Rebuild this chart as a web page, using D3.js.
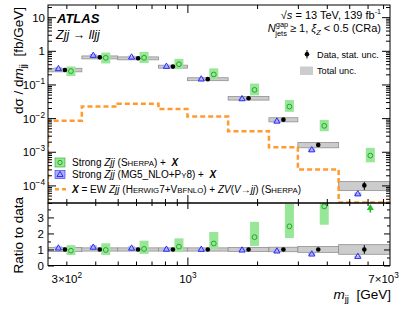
<!DOCTYPE html>
<html>
<head>
<meta charset="utf-8">
<script src="https://cdn.jsdelivr.net/npm/d3@7"></script>
<style>
  body { margin: 0; background: #fff; }
  svg { display: block; font-family: "Liberation Sans", Arial, Helvetica, sans-serif; }
</style>
</head>
<body>
<div id="chart"></div>
<script>
// m_jj bin edges [GeV]
const edges = [250, 350, 500, 750, 1000, 1500, 2250, 3000, 4500, 7500];
// measured cross-section [fb/GeV] with relative uncertainties
const dataVal = [0.27, 0.64, 0.60, 0.34, 0.144, 0.039, 0.0090, 0.0016, 1.0e-4];
const dataStat = [0.02, 0.02, 0.02, 0.03, 0.03, 0.04, 0.06, 0.10, 0.27];
const dataTot = [0.12, 0.10, 0.10, 0.10, 0.10, 0.12, 0.14, 0.18, 0.30];
// Strong Zjj (Sherpa) + X
const sherpaVal = [0.25, 0.62, 0.62, 0.40, 0.198, 0.069, 0.0220, 0.0059, 7.7e-4];
const sherpaUp = [0.37, 0.43, 0.50, 0.44, 0.52, 0.54, 0.57, 0.50, 0.70];
const sherpaDn = [0.29, 0.32, 0.30, 0.27, 0.25, 0.31, 0.30, 0.31, 0.37];
// Strong Zjj (MG5_NLO+Py8) + X
const mg5Val = [0.29, 0.72, 0.64, 0.34, 0.143, 0.037, 0.0080, 0.00112, 5.5e-5];
const mg5Unc = [0.12, 0.12, 0.12, 0.12, 0.12, 0.12, 0.12, 0.12, 0.12];
// X = EW Zjj + ZV
const ewVal = [0.0084, 0.0222, 0.0266, 0.0185, 0.0112, 0.0041, 0.00136, 2.97e-4, 3.1e-5];

const yMajor = [1e-4, 1e-3, 1e-2, 1e-1, 1, 10];
const xMinor = [300, 400, 500, 600, 700, 800, 900, 2000, 3000, 4000, 5000, 6000, 7000];
const xMajor = [1000];
const xLabels = [300, 1000, 7000];
const rMajor = [0, 1, 2, 3];
const rMinor = [0.5, 1.5, 2.5, 3.5];

const W = 399, H = 309;
const L = 48, R = 390, T = 5, B1 = 203, B2 = 265.5;

const cGreenFill = "#98e698", cGreen = "#22a822";
const cBlueFill = "#aab0ff", cBlue = "#2a2ae8";
const cGrayFill = "#cccccc", cGrayLine = "#909090";
const cOrange = "#ff9a2e";
const NB = "\u00a0";

const svg = d3.select("#chart").append("svg")
  .attr("width", W).attr("height", H);

const x = d3.scaleLog().domain([250, 7500]).range([L, R]);
const y = d3.scaleLog().domain([3e-5, 23]).range([B1, T]);
const yr = d3.scaleLinear().domain([0, 3.9]).range([B2, B1]);

// helper: write rich text made of parts
function rich(txt, parts, fs) {
  parts.forEach(p => {
    const t = txt.append("tspan").text(p.t);
    if (p.i) t.attr("font-style", "italic");
    if (p.b) t.attr("font-weight", "bold");
    if (p.s) t.attr("font-size", fs * p.s);
    if (p.dy) t.attr("dy", p.dy);
    if (p.dx) t.attr("dx", p.dx);
  });
  return txt;
}

const bins = d3.range(dataVal.length).map(i => ({
  i, lo: edges[i], hi: edges[i + 1], xc: Math.sqrt(edges[i] * edges[i + 1]),
  d: dataVal[i], st: dataStat[i], tot: dataTot[i],
  sh: sherpaVal[i], shUp: sherpaUp[i], shDn: sherpaDn[i],
  mg: mg5Val[i], mgU: mg5Unc[i]
}));

const defs = svg.append("defs");
defs.append("clipPath").attr("id", "clipTop").append("rect")
  .attr("x", L).attr("y", T).attr("width", R - L).attr("height", B1 - T);
defs.append("clipPath").attr("id", "clipBot").append("rect")
  .attr("x", L).attr("y", B1).attr("width", R - L).attr("height", B2 - B1);

const offTri = -6.5, offCirc = 6;

// ---------- top panel ----------
const gTop = svg.append("g").attr("clip-path", "url(#clipTop)");

gTop.selectAll(".tot").data(bins).enter().append("rect")
  .attr("x", d => x(d.lo)).attr("width", d => x(d.hi) - x(d.lo))
  .attr("y", d => y(d.d * (1 + d.tot)))
  .attr("height", d => y(d.d * (1 - d.tot)) - y(d.d * (1 + d.tot)))
  .attr("fill", cGrayFill).attr("stroke", cGrayLine).attr("stroke-width", 0.8);

const ewLine = d3.line().x(d => x(d[0])).y(d => y(d[1])).curve(d3.curveStepAfter);
const ewPts = [[edges[0], 3e-5]].concat(ewVal.map((v, i) => [edges[i], v]), [[edges[edges.length - 1], ewVal[ewVal.length - 1]]]);
gTop.append("path").attr("d", ewLine(ewPts))
  .attr("fill", "none").attr("stroke", cOrange).attr("stroke-width", 2.5)
  .attr("stroke-dasharray", "5,3");

gTop.selectAll(".shbox").data(bins).enter().append("rect")
  .attr("x", d => x(d.xc) + offCirc - 4.5).attr("width", 9)
  .attr("y", d => y(d.sh * (1 + d.shUp)))
  .attr("height", d => y(d.sh * (1 - d.shDn)) - y(d.sh * (1 + d.shUp)))
  .attr("fill", cGreenFill);

gTop.selectAll(".mgbox").data(bins).enter().append("rect")
  .attr("x", d => x(d.xc) + offTri - 3.5).attr("width", 7)
  .attr("y", d => y(d.mg * (1 + d.mgU)))
  .attr("height", d => y(d.mg * (1 - d.mgU)) - y(d.mg * (1 + d.mgU)))
  .attr("fill", cBlueFill);

const tri = d3.symbol().type(d3.symbolTriangle).size(16);
gTop.selectAll(".mg").data(bins).enter().append("path")
  .attr("d", tri).attr("transform", d => `translate(${x(d.xc) + offTri},${y(d.mg)})`)
  .attr("fill", "none").attr("stroke", cBlue).attr("stroke-width", 1);

gTop.selectAll(".sh").data(bins).enter().append("circle")
  .attr("cx", d => x(d.xc) + offCirc).attr("cy", d => y(d.sh)).attr("r", 2.4)
  .attr("fill", "none").attr("stroke", cGreen).attr("stroke-width", 1);

gTop.selectAll(".err").data(bins).enter().append("line")
  .attr("x1", d => x(d.xc)).attr("x2", d => x(d.xc))
  .attr("y1", d => y(d.d * (1 + d.st))).attr("y2", d => y(d.d * (1 - d.st)))
  .attr("stroke", "#000").attr("stroke-width", 1);
gTop.selectAll(".dat").data(bins).enter().append("circle")
  .attr("cx", d => x(d.xc)).attr("cy", d => y(d.d)).attr("r", 2.3).attr("fill", "#000");

// ---------- ratio panel ----------
const gBot = svg.append("g").attr("clip-path", "url(#clipBot)");

gBot.selectAll(".tot").data(bins).enter().append("rect")
  .attr("x", d => x(d.lo)).attr("width", d => x(d.hi) - x(d.lo))
  .attr("y", d => yr(1 + d.tot)).attr("height", d => yr(1 - d.tot) - yr(1 + d.tot))
  .attr("fill", cGrayFill).attr("stroke", cGrayLine).attr("stroke-width", 0.8);

const inR = d => d.sh / d.d < 3.9;
gBot.selectAll(".shbox").data(bins.filter(inR)).enter().append("rect")
  .attr("x", d => x(d.xc) + offCirc - 4.5).attr("width", 9)
  .attr("y", d => yr(d.sh / d.d * (1 + d.shUp)))
  .attr("height", d => yr(d.sh / d.d * (1 - d.shDn)) - yr(d.sh / d.d * (1 + d.shUp)))
  .attr("fill", cGreenFill);

gBot.selectAll(".mgbox").data(bins).enter().append("rect")
  .attr("x", d => x(d.xc) + offTri - 3.5).attr("width", 7)
  .attr("y", d => yr(d.mg / d.d * (1 + d.mgU)))
  .attr("height", d => yr(d.mg / d.d * (1 - d.mgU)) - yr(d.mg / d.d * (1 + d.mgU)))
  .attr("fill", cBlueFill);

gBot.selectAll(".mg").data(bins).enter().append("path")
  .attr("d", tri).attr("transform", d => `translate(${x(d.xc) + offTri},${yr(d.mg / d.d)})`)
  .attr("fill", "none").attr("stroke", cBlue).attr("stroke-width", 1);

gBot.selectAll(".sh").data(bins.filter(inR)).enter().append("circle")
  .attr("cx", d => x(d.xc) + offCirc).attr("cy", d => yr(d.sh / d.d)).attr("r", 2.4)
  .attr("fill", "none").attr("stroke", cGreen).attr("stroke-width", 1);

// off-scale arrow for Sherpa
const offScale = bins.filter(d => !inR(d));
gBot.selectAll(".arr").data(offScale).enter().append("line")
  .attr("x1", d => x(d.xc) + offCirc).attr("x2", d => x(d.xc) + offCirc)
  .attr("y1", yr(3.3)).attr("y2", B1 + 3)
  .attr("stroke", cGreen).attr("stroke-width", 1.5);
gBot.selectAll(".arrh").data(offScale).enter().append("path")
  .attr("d", d => { const cx = x(d.xc) + offCirc; return `M${cx - 3.5},${B1 + 7}L${cx + 3.5},${B1 + 7}L${cx},${B1 + 1}Z`; })
  .attr("fill", "#22c022");

gBot.selectAll(".err").data(bins).enter().append("line")
  .attr("x1", d => x(d.xc)).attr("x2", d => x(d.xc))
  .attr("y1", d => yr(1 + d.st)).attr("y2", d => yr(1 - d.st))
  .attr("stroke", "#000").attr("stroke-width", 1);
gBot.selectAll(".dat").data(bins).enter().append("circle")
  .attr("cx", d => x(d.xc)).attr("cy", yr(1)).attr("r", 2.3).attr("fill", "#000");

// ---------- axes ----------
const fsTick = 11.5;
function clean(g) { g.select(".domain").remove(); g.selectAll("line").attr("stroke", "#000"); }

const yMinor = [];
for (let e = -5; e <= 1; e++) for (let k = 2; k <= 9; k++) {
  const v = k * Math.pow(10, e);
  if (v >= 3e-5 && v <= 23) yMinor.push(v);
}

// top panel: left / right
svg.append("g").attr("transform", `translate(${L},0)`)
  .call(d3.axisLeft(y).tickValues(yMinor).tickSizeInner(-4).tickSizeOuter(0).tickFormat(""))
  .call(clean);
const yl = svg.append("g").attr("transform", `translate(${L},0)`)
  .call(d3.axisLeft(y).tickValues(yMajor).tickSizeInner(-8).tickSizeOuter(0).tickPadding(3))
  .call(clean);
yl.selectAll("text").attr("font-size", fsTick).attr("fill", "#000").attr("font-family", null)
  .attr("dy", "0.36em")
  .each(function (d) {
    const t = d3.select(this).text(null);
    const e = Math.round(Math.log10(d));
    if (e === 0) t.text("1");
    else if (e === 1) t.text("10");
    else rich(t, [{ t: "10" }, { t: "\u2212" + (-e), s: 0.72, dy: -5 }], fsTick);
  });
svg.append("g").attr("transform", `translate(${R},0)`)
  .call(d3.axisRight(y).tickValues(yMinor).tickSizeInner(-4).tickSizeOuter(0).tickFormat(""))
  .call(clean);
svg.append("g").attr("transform", `translate(${R},0)`)
  .call(d3.axisRight(y).tickValues(yMajor).tickSizeInner(-8).tickSizeOuter(0).tickFormat(""))
  .call(clean);

// top panel: top / bottom x ticks
[[T, d3.axisTop], [B1, d3.axisBottom]].forEach(([yy, ax]) => {
  svg.append("g").attr("transform", `translate(0,${yy})`)
    .call(ax(x).tickValues(xMinor).tickSizeInner(-4).tickSizeOuter(0).tickFormat("")).call(clean);
  svg.append("g").attr("transform", `translate(0,${yy})`)
    .call(ax(x).tickValues(xMajor).tickSizeInner(-8).tickSizeOuter(0).tickFormat("")).call(clean);
});

// ratio panel ticks
svg.append("g").attr("transform", `translate(0,${B1})`)
  .call(d3.axisTop(x).tickValues(xMinor).tickSizeInner(-3).tickSizeOuter(0).tickFormat("")).call(clean);
svg.append("g").attr("transform", `translate(0,${B1})`)
  .call(d3.axisTop(x).tickValues(xMajor).tickSizeInner(-6).tickSizeOuter(0).tickFormat("")).call(clean);
svg.append("g").attr("transform", `translate(0,${B2})`)
  .call(d3.axisBottom(x).tickValues(xMinor).tickSizeInner(-4).tickSizeOuter(0).tickFormat("")).call(clean);
svg.append("g").attr("transform", `translate(0,${B2})`)
  .call(d3.axisBottom(x).tickValues(xMajor).tickSizeInner(-8).tickSizeOuter(0).tickFormat("")).call(clean);
const xl = svg.append("g").attr("transform", `translate(0,${B2})`)
  .call(d3.axisBottom(x).tickValues(xLabels).tickSize(0).tickPadding(9))
  .call(clean);
xl.selectAll("text").attr("font-size", fsTick).attr("fill", "#000").attr("font-family", null)
  .each(function (d) {
    const t = d3.select(this).text(null);
    const e = Math.floor(Math.log10(d) + 1e-9);
    const m = Math.round(d / Math.pow(10, e));
    const parts = [];
    if (m !== 1) parts.push({ t: m + "\u00d7" });
    parts.push({ t: "10" }, { t: String(e), s: 0.72, dy: -5 });
    rich(t, parts, fsTick);
  });

svg.append("g").attr("transform", `translate(${L},0)`)
  .call(d3.axisLeft(yr).tickValues(rMinor).tickSizeInner(-3).tickSizeOuter(0).tickFormat("")).call(clean);
const rl = svg.append("g").attr("transform", `translate(${L},0)`)
  .call(d3.axisLeft(yr).tickValues(rMajor).tickSizeInner(-6).tickSizeOuter(0).tickPadding(4)
    .tickFormat(d3.format("d")))
  .call(clean);
rl.selectAll("text").attr("font-size", fsTick).attr("fill", "#000").attr("font-family", null);
svg.append("g").attr("transform", `translate(${R},0)`)
  .call(d3.axisRight(yr).tickValues(rMinor).tickSizeInner(-3).tickSizeOuter(0).tickFormat("")).call(clean);
svg.append("g").attr("transform", `translate(${R},0)`)
  .call(d3.axisRight(yr).tickValues(rMajor).tickSizeInner(-6).tickSizeOuter(0).tickFormat("")).call(clean);

// frames
svg.append("rect").attr("x", L).attr("y", T).attr("width", R - L).attr("height", B1 - T)
  .attr("fill", "none").attr("stroke", "#000").attr("stroke-width", 1);
svg.append("rect").attr("x", L).attr("y", B1).attr("width", R - L).attr("height", B2 - B1)
  .attr("fill", "none").attr("stroke", "#000").attr("stroke-width", 1);

// ---------- titles ----------
const fsTitle = 13.5;
rich(svg.append("text").attr("transform", `translate(23,7) rotate(-90)`)
  .attr("text-anchor", "end").attr("font-size", fsTitle),
  [{ t: "d\u03c3 / d" }, { t: "m", i: true }, { t: "jj", s: 0.7, dy: 3 }, { t: NB + NB + "[fb/GeV]", dy: -3 }], fsTitle);
svg.append("text").attr("transform", `translate(23,197) rotate(-90)`)
  .attr("text-anchor", "end").attr("font-size", fsTitle).text("Ratio to data");
rich(svg.append("text").attr("x", 391).attr("y", 299)
  .attr("text-anchor", "end").attr("font-size", fsTitle),
  [{ t: "m", i: true }, { t: "jj", s: 0.7, dy: 3 }, { t: NB + NB + "[GeV]", dy: -3 }], fsTitle);

// ---------- labels ----------
svg.append("text").attr("x", 57).attr("y", 23).attr("font-size", 13)
  .attr("font-weight", "bold").attr("font-style", "italic").text("ATLAS");
rich(svg.append("text").attr("x", 56).attr("y", 39).attr("font-size", 12.5),
  [{ t: "Zjj", i: true }, { t: " \u2192 " }, { t: "lljj", i: true }], 12.5);

const fsR = 11;
rich(svg.append("text").attr("x", 381).attr("y", 19).attr("text-anchor", "end").attr("font-size", fsR),
  [{ t: "\u221a" }, { t: "s", i: true }, { t: " = 13 TeV, 139 fb" }, { t: "-1", s: 0.65, dy: -5 }], fsR);
const l2 = rich(svg.append("text").attr("x", 0).attr("y", 32).attr("font-size", fsR),
  [{ t: "N", i: true }, { t: "gap", s: 0.68, dy: -5 }, { t: "jets", s: 0.68, dx: -13, dy: 8.5 },
   { t: " \u2265 1, ", dy: -3.5 }, { t: "\u03be", i: true }, { t: "Z", i: true, s: 0.68, dy: 2.5 },
   { t: " < 0.5 (CRa)", dy: -2.5 }], fsR);
l2.attr("x", 381 - l2.node().getBBox().width);

// data / total legend
const fsL = 9.2;
svg.append("line").attr("x1", 307).attr("x2", 307).attr("y1", 50).attr("y2", 58.5).attr("stroke", "#000");
svg.append("circle").attr("cx", 307).attr("cy", 54.3).attr("r", 2.3).attr("fill", "#000");
svg.append("text").attr("x", 317).attr("y", 57.5).attr("font-size", fsL).text("Data, stat. unc.");
svg.append("rect").attr("x", 300).attr("y", 66.5).attr("width", 13).attr("height", 8.5).attr("fill", cGrayFill);
svg.append("text").attr("x", 317).attr("y", 74.3).attr("font-size", fsL).text("Total unc.");

// model legend
const fsM = 10;
svg.append("rect").attr("x", 55).attr("y", 158).attr("width", 10).attr("height", 9)
  .attr("fill", cGreenFill).attr("stroke", cGreen).attr("stroke-width", 0.6);
svg.append("circle").attr("cx", 60).attr("cy", 162.5).attr("r", 2.2)
  .attr("fill", "none").attr("stroke", cGreen);
rich(svg.append("text").attr("x", 72).attr("y", 166).attr("font-size", fsM),
  [{ t: "Strong " }, { t: "Zjj", i: true }, { t: " (S" }, { t: "HERPA", s: 0.78 }, { t: ") +" + NB + NB },
   { t: "X", i: true, b: true }], fsM);

svg.append("rect").attr("x", 55).attr("y", 170.5).attr("width", 10).attr("height", 8)
  .attr("fill", cBlueFill).attr("stroke", cBlue).attr("stroke-width", 0.6);
svg.append("path").attr("d", tri).attr("transform", "translate(60,174.8)")
  .attr("fill", "none").attr("stroke", cBlue);
rich(svg.append("text").attr("x", 72).attr("y", 178.3).attr("font-size", fsM),
  [{ t: "Strong " }, { t: "Zjj", i: true }, { t: " (MG5_NLO+P" }, { t: "Y", s: 0.78 }, { t: "8) +" + NB + NB },
   { t: "X", i: true, b: true }], fsM);

svg.append("line").attr("x1", 55).attr("x2", 67).attr("y1", 189.3).attr("y2", 189.3)
  .attr("stroke", cOrange).attr("stroke-width", 2.5).attr("stroke-dasharray", "4,3");
rich(svg.append("text").attr("x", 72).attr("y", 193).attr("font-size", fsM),
  [{ t: "X", i: true, b: true }, { t: " = EW " }, { t: "Zjj", i: true }, { t: " (H" }, { t: "ERWIG", s: 0.78 },
   { t: "7+V" }, { t: "BFNLO", s: 0.78 }, { t: ") + " }, { t: "ZV", i: true }, { t: "(" }, { t: "V", i: true },
   { t: "\u2192" }, { t: "jj", i: true }, { t: ") (S" }, { t: "HERPA", s: 0.78 }, { t: ")" }], fsM);
</script>
</body>
</html>
